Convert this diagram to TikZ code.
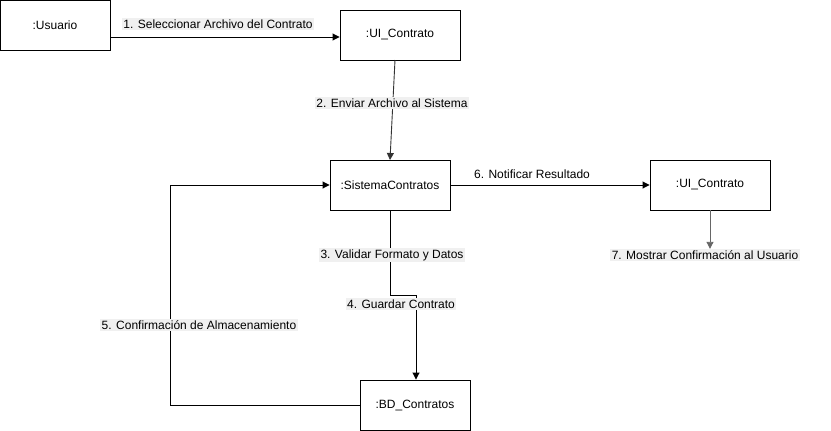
\documentclass[tikz,border=0pt]{standalone}
\usepackage{fontspec}
\setmainfont{Liberation Sans}
\usetikzlibrary{arrows.meta}
\begin{document}
\begin{tikzpicture}[x=1pt,y=-1pt,
  obj/.style={draw,line width=0.9pt,minimum width=#1,minimum height=50pt,inner sep=0pt,font=\fontsize{12}{14}\selectfont},
  obj/.default=120pt,
  msg/.style={line width=0.9pt,-{Triangle[length=7pt,width=7pt]}},
  lbl/.style={fill=black!6,inner sep=1.5pt,font=\fontsize{12}{14}\selectfont},
  lblw/.style={fill=white,inner sep=1.5pt,font=\fontsize{12}{14}\selectfont}]
\useasboundingbox (0,0) rectangle (831,431);
\node[obj=110pt] (usr) at (55,25) {:Usuario};
\node[obj] (ui1) at (400,35) {:UI\_Contrato};
\node[obj] (sis) at (390,185) {:SistemaContratos};
\node[obj] (ui2) at (710,185) {:UI\_Contrato};
\node[obj=110pt] (bd) at (415,405) {:BD\_Contratos};
% 1
\coordinate (u1) at (110,37);
\draw[msg] (u1) -- (u1 -| ui1.west);
\node[lbl] (l1) at (218,24) {1. Seleccionar Archivo del Contrato};
% 2
\coordinate (a2s) at (395,60);
\coordinate (a2e) at (390,160);
\draw[msg,black!80] (a2s) -- (a2e);
\node[lbl] (l2) at (392,103) {2. Enviar Archivo al Sistema};
% 3/4
\coordinate (b1) at (390,295);
\coordinate (b2) at (416,295);
\draw[msg] (sis.south) -- (b1) -- (b2) -- (b2 |- bd.north);
\node[lbl] (l3) at (392,255) {3. Validar Formato y Datos};
\node[lbl] (l4) at (401,304) {4. Guardar Contrato};
% 5
\coordinate (c1) at (170,405);
\coordinate (c2) at (170,185);
\draw[msg] (bd.west) -- (c1) -- (c2) -- (sis.west);
\node[lbl] (l5) at (199,325) {5. Confirmación de Almacenamiento};
% 6
\draw[msg] (sis.east) -- (ui2.west);
\node[lblw] (l6) at (532,174) {6. Notificar Resultado};
% 7
\node[lbl] (l7) at (705,255) {7. Mostrar Confirmación al Usuario};
\draw[msg,black!60] (ui2.south) -- (ui2.south |- l7.north);
\end{tikzpicture}
\end{document}
